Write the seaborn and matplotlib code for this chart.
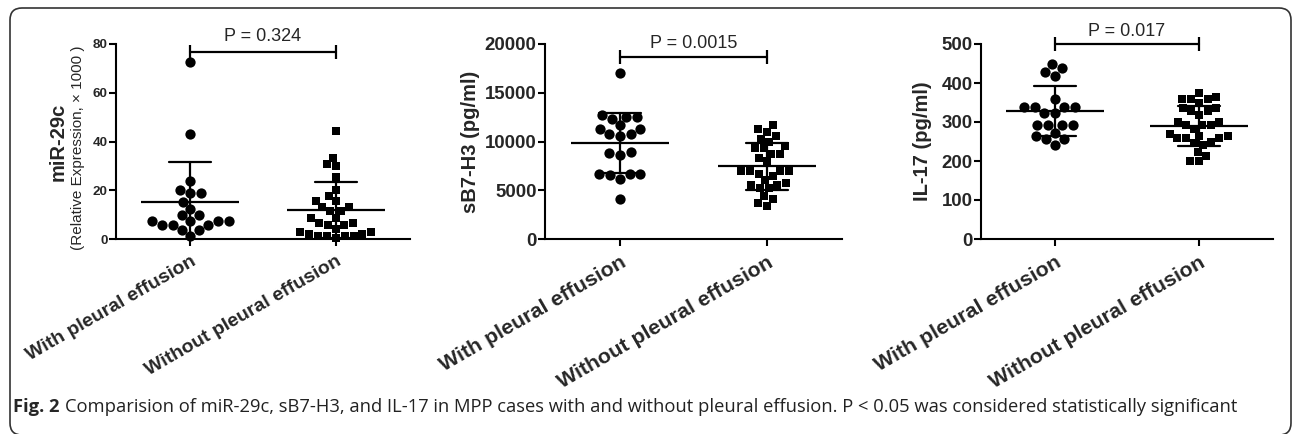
import matplotlib
matplotlib.use("Agg")
import matplotlib.pyplot as plt
from matplotlib.patches import FancyBboxPatch
from matplotlib.transforms import IdentityTransform
import seaborn as sns
import pandas as pd

groups = ["With pleural effusion", "Without pleural effusion"]

mir_with = [72.6, 42.9, 23.6, 19.0, 19.0, 20.2, 15.3, 12.3, 9.8, 9.8,
            7.2, 7.2, 7.2, 7.2, 5.9, 5.9, 5.9, 3.8, 3.8, 1.1]
mir_without = [44.5, 33.4, 30.9, 30.0, 25.5, 19.9, 17.7, 15.6, 15.6, 13.1,
               13.1, 11.3, 11.3, 8.5, 8.5, 6.6, 6.6, 5.6, 5.6, 4.1,
               3.0, 3.0, 2.2, 2.2, 1.1, 1.1, 1.1, 1.1, 0.5]

sb_with = [17065, 12730, 12560, 12560, 12355, 11670, 11300, 11300, 10785, 10785,
           10580, 8874, 8869, 8664, 6655, 6655, 6655, 6550, 6178, 4130]
sb_without = [11700, 11260, 11025, 10580, 10270, 10000, 9488, 9283, 9283, 8737,
              8737, 8293, 7950, 6930, 6930, 6930, 6930, 6690, 6420, 6010,
              5730, 5495, 5495, 5220, 5220, 4440, 4096, 3686, 3413]

il_with = [450, 438, 429, 418, 358, 338, 338, 338, 338, 324,
           324, 293, 293, 293, 293, 273, 265, 256, 256, 241]
il_without = [375, 365, 358, 358, 358, 350, 335, 335, 327, 327,
              318, 301, 301, 293, 293, 293, 282, 270, 264, 264,
              258, 258, 258, 250, 245, 241, 222, 213, 199, 199]

p_values = ["P = 0.324", "P = 0.0015", "P = 0.017"]
y_ticks = [[0, 20, 40, 60, 80], [0, 5000, 10000, 15000, 20000], [0, 100, 200, 300, 400, 500]]
caption = ("Comparision of miR-29c, sB7-H3, and IL-17 in MPP cases with and without "
           "pleural effusion. P < 0.05 was considered statistically significant")

sns.set_theme(style="ticks")
plt.rcParams["font.family"] = ["Liberation Sans", "DejaVu Sans"]

fig = plt.figure(figsize=(12.92, 4.34), dpi=100)
W, H = 1292, 434


def panel(left, width, with_vals, without_vals, ticks, pval, bracket_y, text_y,
          tick_fs, xlab_fs):
    ax = fig.add_axes([left / W, (H - 239) / H, width / W, 195 / H])
    df = pd.DataFrame({
        "group": [groups[0]] * len(with_vals) + [groups[1]] * len(without_vals),
        "value": list(with_vals) + list(without_vals),
    })
    sns.swarmplot(data=df[df.group == groups[0]], x="group", y="value", order=groups,
                  marker="o", size=7.4, color="black", linewidth=0, ax=ax)
    sns.swarmplot(data=df[df.group == groups[1]], x="group", y="value", order=groups,
                  marker="s", size=6.2, color="black", linewidth=0, ax=ax)
    sns.pointplot(data=df, x="group", y="value", order=groups, errorbar="sd",
                  markers="_", markersize=70, markeredgewidth=1.6, linestyle="none",
                  capsize=0.29, color="black", err_kws={"linewidth": 1.6}, ax=ax)
    for c in ax.collections:
        c.set_clip_on(False)
    ax.set_xlim(-0.51, 1.51)
    ax.set_ylim(ticks[0], ticks[-1])
    ax.set_yticks(ticks)
    ax.set_xlabel("")
    ax.set_ylabel("")
    sns.despine(ax=ax)
    for s in ["left", "bottom"]:
        ax.spines[s].set_linewidth(1.5)
        ax.spines[s].set_color("black")
    ax.tick_params(axis="both", length=5, width=1.5, color="black", pad=1)
    for lab in ax.get_yticklabels():
        lab.set_fontsize(tick_fs)
        lab.set_fontweight("bold")
    ax.set_xticks([0, 1])
    ax.set_xticklabels(groups, rotation=30, ha="right", rotation_mode="anchor",
                       fontsize=xlab_fs, fontweight="bold")
    ax.tick_params(axis="x", pad=5)
    # significance bracket
    ax.plot([0, 1], [bracket_y, bracket_y], color="black", lw=1.6, clip_on=False)
    ax.plot([0, 1], [bracket_y, bracket_y], color="black", linestyle="none",
            marker="|", markersize=10, markeredgewidth=1.6, clip_on=False)
    ax.text(0.5, text_y, pval, ha="center", va="center", fontsize=13, clip_on=False)
    return ax


ax1 = panel(116, 294, mir_with, mir_without, y_ticks[0], p_values[0], 76.7, 82.9, 9.7, 14)
ax1.set_ylabel("miR-29c", fontsize=14.5, fontweight="bold")
ax1.yaxis.set_label_coords(-0.163, 0.5)
ax1.text(-0.105, 0.47, "(Relative Expression, \u00d7 1000 )", rotation=90, ha="right",
         va="center", fontsize=11, transform=ax1.transAxes)

ax2 = panel(545, 297, sb_with, sb_without, y_ticks[1], p_values[1], 18667, 20051, 13.4, 15.4)
ax2.set_ylabel("sB7-H3 (pg/ml)", fontsize=14.5, fontweight="bold")
ax2.yaxis.set_label_coords(-0.219, 0.5)

ax3 = panel(981, 292, il_with, il_without, y_ticks[2], p_values[2], 500, 533, 13.4, 15.4)
ax3.set_ylabel("IL-17 (pg/ml)", fontsize=14.5, fontweight="bold")
ax3.yaxis.set_label_coords(-0.168, 0.5)

# caption and rounded frame
cap_font = ["Open Sans", "DejaVu Sans"]
t1 = fig.text(13 / W, 1 - 407 / H, "Fig. 2", fontsize=13.2, fontweight="bold",
              family=cap_font, va="center", ha="left")
ax1.annotate(caption, xy=(1, 0.5), xycoords=t1, xytext=(4, 0), textcoords="offset points",
             va="center", ha="left", fontsize=13.2, family=cap_font, color="#222222",
             annotation_clip=False)

frame = FancyBboxPatch((10, -1), 1281, 427, boxstyle="round,pad=0,rounding_size=12",
                       transform=IdentityTransform(), fill=False, edgecolor="#333333",
                       linewidth=1.2)
fig.add_artist(frame)

fig.savefig("out.png", dpi=100)
